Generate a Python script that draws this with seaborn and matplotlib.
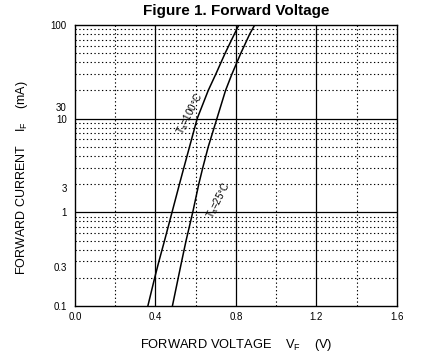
import matplotlib
matplotlib.use("Agg")
import matplotlib.pyplot as plt
import matplotlib.ticker as mticker
import seaborn as sns
import numpy as np
import pandas as pd

# forward current (mA) and forward voltage (V)
current_ma = [0.1, 0.2, 0.3, 0.5, 1, 2, 3, 5, 10, 20, 30, 50, 80, 100]
vf_100c = [0.362, 0.396, 0.417, 0.445, 0.482, 0.519, 0.541, 0.569, 0.607,
           0.662, 0.700, 0.746, 0.792, 0.814]
vf_25c = [0.484, 0.513, 0.530, 0.552, 0.585, 0.615, 0.635, 0.662, 0.705,
          0.748, 0.780, 0.824, 0.868, 0.893]

x_ticks = [0.0, 0.4, 0.8, 1.2, 1.6]
x_ticklabels = ["0.0", "0.4", "0.8", "1.2", "1.6"]
# y labels sit where the original drawing put them
y_ticks = [0.1, 0.26, 1, 1.8, 10, 13.3, 100]
y_ticklabels = ["0.1", "0.3", "1", "3", "10", "30", "100"]

df = pd.DataFrame({
    "VF": vf_100c + vf_25c,
    "IF": current_ma + current_ma,
    "Ta": ["100"] * len(current_ma) + ["25"] * len(current_ma),
})

sns.set_theme(style="white")
plt.rcParams["font.family"] = ["Liberation Sans", "DejaVu Sans"]
plt.rcParams["mathtext.default"] = "regular"
plt.rcParams["text.color"] = "black"
plt.rcParams["axes.labelcolor"] = "black"

fig = plt.figure(figsize=(4.27, 3.58), dpi=100)
ax = fig.add_axes([75 / 427, 1 - 306 / 358, 322 / 427, 281 / 358])

sns.lineplot(data=df, x="VF", y="IF", hue="Ta", palette=["black", "black"],
             linewidth=1.1, legend=False, ax=ax, sort=False, estimator=None)

ax.set_yscale("log")
ax.set_xlim(0, 1.6)
ax.set_ylim(0.1, 100)

# grid: solid majors, dotted minors
ax.xaxis.set_minor_locator(mticker.MultipleLocator(0.2))
ax.yaxis.set_minor_locator(mticker.LogLocator(base=10, subs=np.arange(2, 10)))
for v in [0.4, 0.8, 1.2]:
    ax.axvline(v, color="black", lw=0.9, zorder=1)
for v in [1, 10]:
    ax.axhline(v, color="black", lw=0.9, zorder=1)
ax.grid(which="minor", color="black", linestyle=(0, (1.2, 2.2)), lw=0.8)

ax.set_xticks(x_ticks)
ax.set_xticklabels(x_ticklabels)
ax.yaxis.set_major_locator(mticker.FixedLocator(y_ticks))
ax.yaxis.set_major_formatter(mticker.FixedFormatter(y_ticklabels))
ax.yaxis.set_minor_formatter(mticker.NullFormatter())
ax.tick_params(axis="both", which="both", length=0, labelsize=7, colors="black")
ax.tick_params(axis="y", pad=6)
ax.tick_params(axis="x", pad=4)

for s in ax.spines.values():
    s.set_color("black")
    s.set_linewidth(1.0)

ax.set_xlabel("FORWARD VOLTAGE    $V_F$    (V)", fontsize=9.3, color="black")
ax.set_ylabel("FORWARD CURRENT    $I_F$    (mA)", fontsize=9, color="black")
ax.xaxis.set_label_coords(0.5, -0.11)
ax.yaxis.set_label_coords(-0.14, 0.455)

fig.text(236 / 427, 1 - 11 / 358, "Figure 1. Forward Voltage", ha="center",
         va="center", fontsize=11, fontweight="bold", color="black")

ax.text(0.572, 11.3, "$T_a$=100°C", rotation=63, fontsize=7,
        ha="center", va="center", color="black")
ax.text(0.714, 1.34, "$T_a$=25°C", rotation=63, fontsize=7,
        ha="center", va="center", color="black")

fig.savefig("out.png", dpi=100)
